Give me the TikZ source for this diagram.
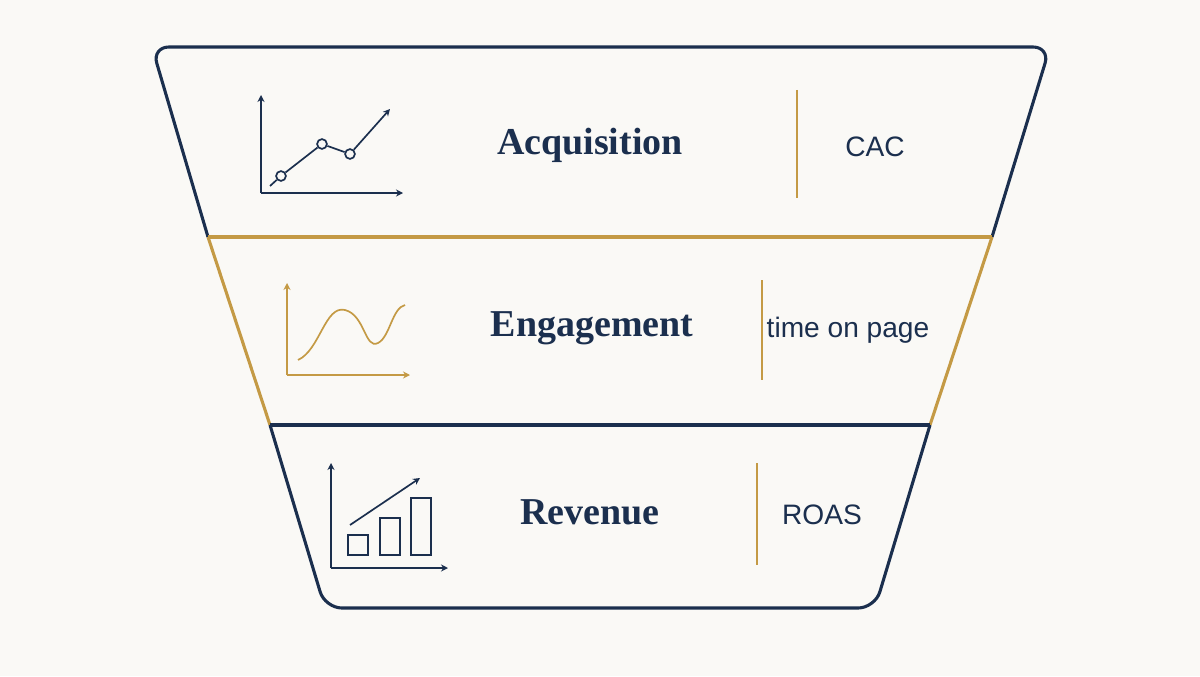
\documentclass[tikz,border=0pt]{standalone}
\usepackage{fontspec}
\setmainfont{Liberation Serif}
\setsansfont{Liberation Sans}
\usetikzlibrary{arrows.meta,positioning}
\definecolor{navy}{HTML}{1B2F4E}
\definecolor{gold}{HTML}{C49A45}
\definecolor{paper}{HTML}{FAF9F6}
\tikzset{
    stage/.style={font=\bfseries\fontsize{27}{31}\selectfont, text=navy},
    metric/.style={font=\sffamily\fontsize{20}{24}\selectfont, text=navy},
    edge/.style={line width=2.2pt, line join=round},
    icon/.style={line width=1.2pt},
    axis/.style={icon, -{Stealth[length=5pt,width=5pt]}},
    dot/.style={circle, draw=navy, fill=paper, line width=1.2pt, inner sep=0pt, minimum size=7pt}
}
\begin{document}
\begin{tikzpicture}[x=0.025cm, y=-0.025cm]
    \fill[paper] (0,0) rectangle (1200,676);
    \useasboundingbox (0,0) rectangle (1200,676);

    % funnel outline
    \coordinate (a1) at (208,237);
    \coordinate (a2) at (992,237);
    \coordinate (b1) at (270,425);
    \coordinate (b2) at (930,425);
    \draw[edge, navy, rounded corners=12pt] (a1) -- (152,47) -- (1050,47) -- (a2);
    \draw[edge, gold] (a1) -- (b1);
    \draw[edge, gold] (a2) -- (b2);
    \draw[edge, gold] (a1) -- (a2);
    \draw[edge, navy, rounded corners=12pt] (b1) -- (325,608) -- (875,608) -- (b2);
    \draw[edge, navy] (b1) -- (b2);

    % stage names and metrics
    \node (acq) [stage] at (590,145) {Acquisition};
    \node (eng) [stage] at (592,328) {Engagement};
    \node (rev) [stage] at (590,512) {Revenue};
    \node (cac) [metric] at (875,147) {CAC};
    \node (top) [metric] at (848,330) {time on page};
    \node (roas) [metric] at (822,515) {ROAS};
    \draw[gold, line width=1.5pt] (797,90) -- (797,198);
    \draw[gold, line width=1.5pt] (762,280) -- (762,380);
    \draw[gold, line width=1.5pt] (757,463) -- (757,565);

    % acquisition icon
    \coordinate (o1) at (261,193);
    \draw[axis, navy] (o1) -- (261,95);
    \draw[axis, navy] (o1) -- (403,193);
    \node (p1) [dot] at (281,176) {};
    \node (p2) [dot] at (322,144) {};
    \node (p3) [dot] at (350,154) {};
    \coordinate (p0) at (270,186);
    \coordinate (p4) at (390,109);
    \draw[icon, navy] (p0) -- (p1) -- (p2) -- (p3);
    \draw[axis, navy] (p3) -- (p4);

    % engagement icon
    \coordinate (o2) at (287,375);
    \draw[axis, gold] (o2) -- (287,283);
    \draw[axis, gold] (o2) -- (410,375);
    \draw[icon, gold] (298,360) .. controls (320,350) and (325,305) .. (345,310)
        .. controls (365,315) and (365,350) .. (378,343)
        .. controls (390,337) and (392,308) .. (405,305);

    % revenue icon
    \coordinate (o3) at (331,568);
    \draw[axis, navy] (o3) -- (331,463);
    \draw[axis, navy] (o3) -- (448,568);
    \foreach \Left/\Top in {348/535, 380/518, 411/498}
        \draw[icon, navy] (\Left,555) rectangle (\Left+20,\Top);
    \coordinate (r1) at (350,525);
    \coordinate (r2) at (420,478);
    \draw[axis, navy] (r1) -- (r2);
\end{tikzpicture}
\end{document}
